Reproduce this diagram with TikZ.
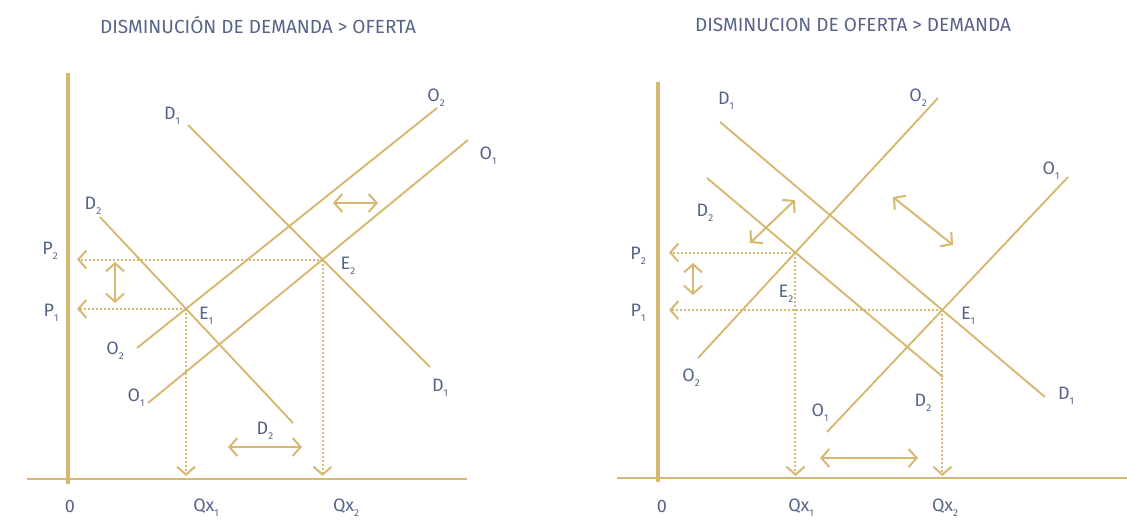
\documentclass[tikz,border=0pt]{standalone}
\usepackage{fontspec}
\setmainfont{Fira Sans}
\usetikzlibrary{arrows.meta}
\usepackage{xcolor}
\definecolor{curvegold}{RGB}{214, 184, 112}
\definecolor{labelblue}{RGB}{86, 100, 138}
\newcommand{\lbl}[2]{#1\raisebox{-0.5ex}{\fontsize{10}{10}\selectfont #2}}

\begin{document}
\begin{tikzpicture}[x=1pt, y=-1pt, >={Straight Barb[length=8pt, width=18pt]},
    curve/.style={curvegold, line width=1.9pt},
    axisline/.style={curvegold, line width=3.8pt},
    guide/.style={curvegold, line width=2pt, dash pattern=on 2pt off 2pt},
    moveline/.style={curvegold, line width=2pt, <->},
    lab/.style={text=labelblue, font=\fontsize{18}{18}\selectfont, inner sep=0pt},
    heading/.style={text=labelblue, font=\fontsize{19}{19}\selectfont}]
    \useasboundingbox (0,0) rectangle (1127,522);

    % demanda cae mas que la oferta
    \node[heading] (titleL) at (258,25) {DISMINUCIÓN DE DEMANDA > OFERTA};
    \coordinate (lyTop) at (68,73);  \coordinate (lyBot) at (68,484);
    \coordinate (lxL) at (27,479);   \coordinate (lxR) at (467,479);
    \draw[axisline] (lyTop) -- (lyBot);
    \draw[curve] (lxL) -- (lxR);
    \coordinate (lD1a) at (188,125); \coordinate (lD1b) at (430,367);
    \coordinate (lD2a) at (100,217); \coordinate (lD2b) at (293,423);
    \coordinate (lO1a) at (148,403); \coordinate (lO1b) at (468,140);
    \coordinate (lO2a) at (137,348); \coordinate (lO2b) at (437,108);
    \draw[curve] (lD1a) -- (lD1b);
    \draw[curve] (lD2a) -- (lD2b);
    \draw[curve] (lO1a) -- (lO1b);
    \draw[curve] (lO2a) -- (lO2b);
    \coordinate (lE1) at (intersection of lD2a--lD2b and lO2a--lO2b);
    \coordinate (lE2) at (intersection of lD1a--lD1b and lO1a--lO1b);
    \coordinate (lpx) at (77,0);     \coordinate (lqy) at (0,476);
    \draw[guide,->] (lE2) -- (lE2 -| lpx);
    \draw[guide,->] (lE1) -- (lE1 -| lpx);
    \draw[guide,->] (lE2) -- (lE2 |- lqy);
    \draw[guide,->] (lE1) -- (lE1 |- lqy);
    \draw[moveline] (115,262) -- (115,303);
    \draw[moveline] (333,203) -- (378,203);
    \draw[moveline] (228,447) -- (302,447);
    \node[lab] (lD1t) at (172,116) {\lbl{D}{1}};
    \node[lab] (lD1l) at (440,388) {\lbl{D}{1}};
    \node[lab] (lD2t) at (93,206) {\lbl{D}{2}};
    \node[lab] (lD2l) at (265,431) {\lbl{D}{2}};
    \node[lab] (lO1t) at (488,156) {\lbl{O}{1}};
    \node[lab] (lO1l) at (136,398) {\lbl{O}{1}};
    \node[lab] (lO2t) at (436,98) {\lbl{O}{2}};
    \node[lab] (lO2l) at (115,351) {\lbl{O}{2}};
    \node[lab] (lE1t) at (206,316) {\lbl{E}{1}};
    \node[lab] (lE2t) at (348,266) {\lbl{E}{2}};
    \node[lab] (lP2) at (50,251) {\lbl{P}{2}};
    \node[lab] (lP1) at (51,313) {\lbl{P}{1}};
    \node[lab] (lzero) at (70,506) {0};
    \node[lab] (lQ1) at (206,508) {\lbl{Qx}{1}};
    \node[lab] (lQ2) at (346,508) {\lbl{Qx}{2}};

    % oferta cae mas que la demanda
    \node[heading] (titleR) at (853,25) {DISMINUCION DE OFERTA > DEMANDA};
    \coordinate (ryTop) at (658,82); \coordinate (ryBot) at (658,482);
    \coordinate (rxL) at (617,478);  \coordinate (rxR) at (1127,478);
    \draw[axisline] (ryTop) -- (ryBot);
    \draw[curve] (rxL) -- (rxR);
    \coordinate (rD1a) at (720,122); \coordinate (rD1b) at (1045,397);
    \coordinate (rD2a) at (707,178); \coordinate (rD2b) at (943,377);
    \coordinate (rO1a) at (827,432); \coordinate (rO1b) at (1068,177);
    \coordinate (rO2a) at (698,358); \coordinate (rO2b) at (938,98);
    \draw[curve] (rD1a) -- (rD1b);
    \draw[curve] (rD2a) -- (rD2b);
    \draw[curve] (rO1a) -- (rO1b);
    \draw[curve] (rO2a) -- (rO2b);
    \coordinate (rE1) at (intersection of rD1a--rD1b and rO1a--rO1b);
    \coordinate (rE2) at (intersection of rD2a--rD2b and rO2a--rO2b);
    \coordinate (rpx) at (669,0);    \coordinate (rqy) at (0,476);
    \draw[guide,->] (rE2) -- (rE2 -| rpx);
    \draw[guide,->] (rE1) -- (rE1 -| rpx);
    \draw[guide,->] (rE2) -- (rE2 |- rqy);
    \draw[guide,->] (rE1) -- (rE1 |- rqy);
    \draw[moveline] (693,263) -- (693,295);
    \draw[moveline] (820,458) -- (918,458);
    \draw[moveline] (750,243) -- (795,200);
    \draw[moveline] (893,197) -- (953,245);
    \node[lab] (rD1t) at (726,101) {\lbl{D}{1}};
    \node[lab] (rD1l) at (1066,396) {\lbl{D}{1}};
    \node[lab] (rD2t) at (705,213) {\lbl{D}{2}};
    \node[lab] (rD2l) at (923,403) {\lbl{D}{2}};
    \node[lab] (rO1t) at (1051,171) {\lbl{O}{1}};
    \node[lab] (rO1l) at (820,413) {\lbl{O}{1}};
    \node[lab] (rO2t) at (918,98) {\lbl{O}{2}};
    \node[lab] (rO2l) at (691,378) {\lbl{O}{2}};
    \node[lab] (rE2t) at (786,294) {\lbl{E}{2}};
    \node[lab] (rE1t) at (968,316) {\lbl{E}{1}};
    \node[lab] (rP2) at (638,256) {\lbl{P}{2}};
    \node[lab] (rP1) at (638,313) {\lbl{P}{1}};
    \node[lab] (rzero) at (662,506) {0};
    \node[lab] (rQ1) at (801,508) {\lbl{Qx}{1}};
    \node[lab] (rQ2) at (945,508) {\lbl{Qx}{2}};
\end{tikzpicture}
\end{document}
